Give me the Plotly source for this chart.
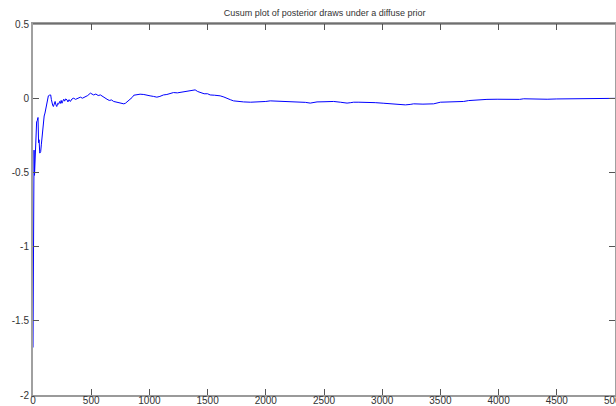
import plotly.graph_objects as go

# Cumulative-sum trace of MCMC posterior draws (iteration, cusum value)
iterations = [0, 2, 5, 9, 13, 17, 22, 26, 31, 37, 43, 48, 52, 58, 66, 72, 76, 82, 89, 96,
              103, 110, 118, 125, 132, 140, 152, 158, 163, 170, 175, 182, 190, 197, 204,
              212, 220, 229, 236, 242, 249, 256, 264, 272, 280, 292, 300, 310, 321, 335,
              350, 365, 378, 392, 407, 425, 450, 470, 493, 508, 521, 540, 560, 579, 600,
              618, 636, 655, 675, 693, 715, 736, 760, 780, 794, 815, 837, 852, 866, 890,
              920, 952, 980, 1006, 1035, 1064, 1090, 1121, 1150, 1180, 1207, 1240, 1270,
              1293, 1320, 1350, 1375, 1393, 1415, 1436, 1470, 1500, 1522, 1560, 1608, 1640,
              1665, 1695, 1723, 1760, 1809, 1870, 1952, 2000, 2038, 2100, 2182, 2240, 2296,
              2340, 2382, 2410, 2440, 2500, 2583, 2640, 2698, 2730, 2755, 2800, 2870, 2940,
              3014, 3080, 3157, 3199, 3240, 3270, 3350, 3442, 3500, 3560, 3620, 3700, 3743,
              3800, 3844, 3900, 3987, 4060, 4130, 4180, 4216, 4300, 4417, 4500, 4600, 4704,
              4761, 4850, 4990, 5000]
cusum = [-1.68, -1.05, -0.56, -0.35, -0.52, -0.42, -0.38, -0.30, -0.16, -0.15, -0.13, -0.30,
         -0.28, -0.37, -0.36, -0.31, -0.27, -0.22, -0.16, -0.12, -0.10, -0.07, -0.034, -0.01,
         0.016, 0.02, 0.022, -0.01, -0.034, -0.05, -0.056, -0.03, -0.022, -0.045, -0.056,
         -0.035, -0.04, -0.022, -0.035, -0.015, -0.034, -0.02, -0.007, -0.02, -0.005, -0.011,
         -0.025, -0.01, -0.022, -0.005, 0.0, -0.008, -0.003, 0.005, 0.007, 0.0, 0.011, 0.018,
         0.034, 0.025, 0.022, 0.028, 0.018, 0.022, 0.01, 0.0, -0.007, -0.015, -0.012, -0.022,
         -0.025, -0.03, -0.032, -0.038, -0.034, -0.02, -0.011, 0.005, 0.02, 0.025, 0.027,
         0.025, 0.018, 0.016, 0.012, 0.007, 0.012, 0.022, 0.025, 0.032, 0.038, 0.036, 0.04,
         0.038, 0.045, 0.05, 0.054, 0.056, 0.045, 0.038, 0.03, 0.03, 0.022, 0.02, 0.016,
         0.008, -0.002, -0.01, -0.018, -0.022, -0.025, -0.027, -0.027, -0.022, -0.018, -0.02,
         -0.018, -0.02, -0.022, -0.028, -0.033, -0.03, -0.025, -0.024, -0.022, -0.027, -0.033,
         -0.03, -0.027, -0.027, -0.027, -0.03, -0.034, -0.038, -0.04, -0.045, -0.042, -0.038,
         -0.04, -0.038, -0.027, -0.026, -0.025, -0.022, -0.016, -0.012, -0.007, -0.008,
         -0.007, -0.009, -0.011, -0.008, -0.004, -0.006, -0.007, -0.005, -0.005, -0.004, 0.0,
         -0.002, -0.002, -0.001]

x_ticks = [0, 500, 1000, 1500, 2000, 2500, 3000, 3500, 4000, 4500, 5000]
y_ticks = [-2, -1.5, -1, -0.5, 0, 0.5]
y_tick_text = ["-2", "-1.5", "-1", "-0.5", "0", "0.5"]

title_text = "Cusum plot of posterior draws under a diffuse prior"

font_family = "Liberation Sans Narrow, Arial Narrow, Liberation Sans, Arial, sans-serif"

fig = go.Figure()
fig.add_trace(go.Scatter(
    x=iterations, y=cusum, mode="lines",
    line=dict(color="#0000ff", width=1),
    hoverinfo="skip", showlegend=False,
))

axis_common = dict(
    showgrid=False, zeroline=False,
    ticks="inside", ticklen=6, tickwidth=1, tickcolor="#555555",
    showline=True, mirror="ticks",
    automargin=False,
    ticklabeloverflow="allow",
    tickfont=dict(family=font_family, size=10, color="#333333"),
)

fig.update_layout(
    width=616, height=406,
    margin=dict(l=33, r=1, t=24, b=11, autoexpand=False),
    paper_bgcolor="white", plot_bgcolor="white",
    title=dict(text=title_text, x=0.527, xanchor="center", y=0.968, yanchor="middle",
               font=dict(family=font_family, size=9, color="#333333")),
    xaxis=dict(range=[0, 5000], tickvals=x_ticks, linecolor="#9a9a9a", linewidth=1.5,
               ticklabelstandoff=-5, **axis_common),
    yaxis=dict(range=[-2, 0.5], tickvals=y_ticks, ticktext=y_tick_text,
               linecolor="#a0a0a0", linewidth=2, **axis_common),
    shapes=[dict(type="line", xref="paper", yref="paper", x0=0, x1=1, y0=1, y1=1,
                 line=dict(color="#444444", width=1))],
)

fig.write_html("out.html")
